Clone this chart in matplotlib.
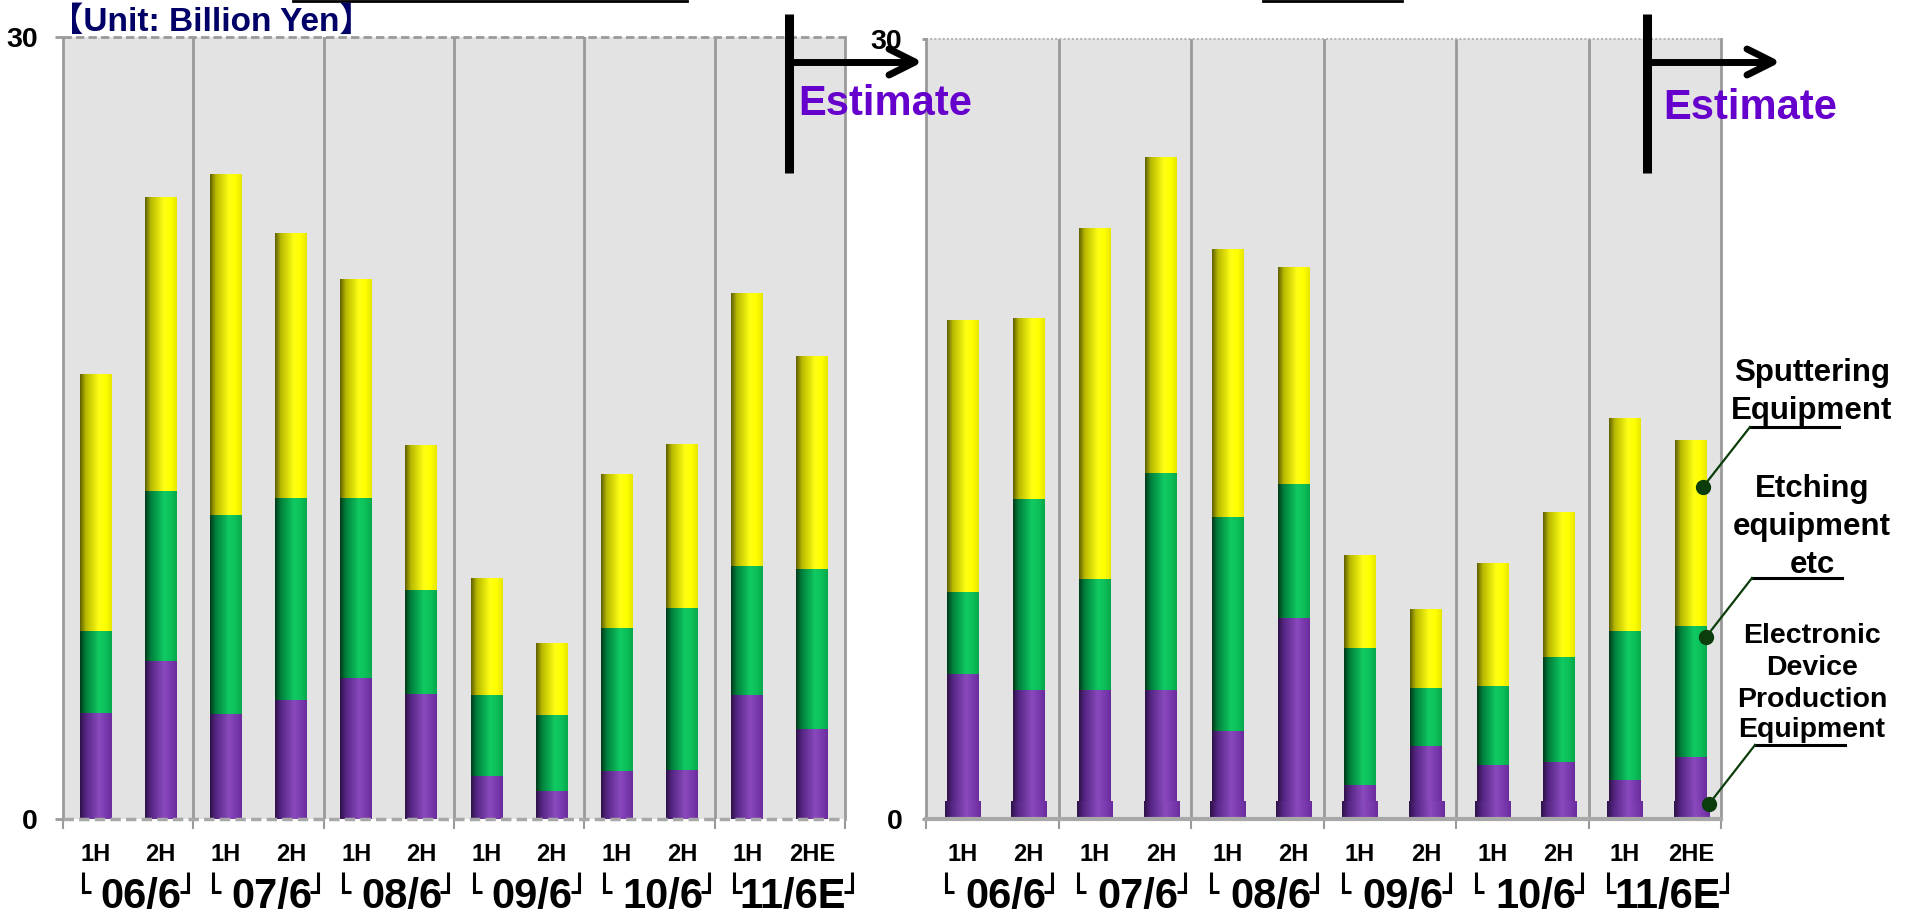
import numpy as np
import matplotlib
matplotlib.use("Agg")
import matplotlib.pyplot as plt
from matplotlib import font_manager
from matplotlib.colors import LinearSegmentedColormap
from matplotlib.lines import Line2D

# ---------------- data (billion yen) ----------------
periods = ["06/6", "07/6", "08/6", "09/6", "10/6", "11/6E"]
halves = ["1H", "2H", "1H", "2H", "1H", "2H", "1H", "2H", "1H", "2H", "1H", "2HE"]

# left panel, stacked from the bottom
left_device = [4.08, 6.05, 4.03, 4.55, 5.40, 4.78, 1.66, 1.06, 1.85, 1.89, 4.75, 3.44]
left_etching = [3.14, 6.54, 7.62, 7.76, 6.91, 3.99, 3.09, 2.92, 5.47, 6.21, 4.94, 6.16]
left_sputtering = [9.86, 11.29, 13.08, 10.17, 8.39, 5.59, 4.50, 2.77, 5.91, 6.29, 10.48, 8.16]

# right panel, stacked from the bottom
right_device = [5.58, 4.98, 4.98, 4.98, 3.40, 7.74, 1.31, 2.81, 2.06, 2.20, 1.50, 2.39]
right_etching = [3.15, 7.33, 4.24, 8.31, 8.22, 5.14, 5.25, 2.21, 3.05, 4.03, 5.72, 5.02]
right_sputtering = [10.45, 6.97, 13.50, 12.16, 10.31, 8.34, 3.61, 3.04, 4.73, 5.58, 8.20, 7.17]

y_ticks = [0, 30]

# ---------------- fonts ----------------
_names = {f.name for f in font_manager.fontManager.ttflist}
NARROW_OK = "Liberation Sans Narrow" in _names
NARROW = "Liberation Sans Narrow" if NARROW_OK else "Liberation Sans"
SANS = "Liberation Sans"
HALF_SIZE = 19 if NARROW_OK else 17
GROUP_SIZE = 35 if NARROW_OK else 30
YTICK_SIZE = 22 if NARROW_OK else 20.5

W, H = 1912, 914
fig = plt.figure(figsize=(W / 100, H / 100), dpi=100)
fig.patch.set_facecolor("white")


def fx(px):
    return px / W


def fy(py):
    return 1 - py / H


# cylinder-like shading, dark on the left, highlight right of centre
GRAD = np.linspace(0, 1, 128).reshape(1, -1)
cm_purple = LinearSegmentedColormap.from_list(
    "p", [(0, "#2e1248"), (0.18, "#552584"), (0.6, "#8a4abd"), (0.8, "#7b3bb0"), (1, "#6a2c9c")])
cm_green = LinearSegmentedColormap.from_list(
    "g", [(0, "#003a1a"), (0.18, "#00803c"), (0.6, "#10ca62"), (0.8, "#0cc05a"), (1, "#06a84c")])
cm_yellow = LinearSegmentedColormap.from_list(
    "y", [(0, "#5e5e00"), (0.18, "#b8b800"), (0.6, "#ffff14"), (0.8, "#ffff00"), (1, "#e6e600")])

SEP = "#9a9a9a"


def shade(ax, patches, cmap):
    for p in patches:
        x0, y0 = p.get_x(), p.get_y()
        w, h = p.get_width(), p.get_height()
        im = ax.imshow(GRAD, extent=(x0, x0 + w, y0, y0 + h), cmap=cmap,
                       aspect="auto", origin="lower", interpolation="bilinear",
                       zorder=p.get_zorder() + 0.1)
        im.set_clip_path(p)


def panel(rect, device, etching, sputtering, offset, width, top_style, zero_style,
          ytick_len, ytick_pad, base=False):
    ax = fig.add_axes(rect)
    ax.set_facecolor("#e3e3e3")
    xs = np.arange(len(halves)) + offset
    dev = np.array(device)
    etc = np.array(etching)
    spt = np.array(sputtering)

    if base:
        b = ax.bar(xs, 0.7, width=width + 0.05, color="#7a3aaa", zorder=3.5)
        shade(ax, b, cm_purple)
    b1 = ax.bar(xs, dev, width=width, color="#7a3aaa", zorder=3)
    b2 = ax.bar(xs, etc, bottom=dev, width=width, color="#0cc05a", zorder=3)
    b3 = ax.bar(xs, spt, bottom=dev + etc, width=width, color="#ffff00", zorder=3)
    shade(ax, b1, cm_purple)
    shade(ax, b2, cm_green)
    shade(ax, b3, cm_yellow)

    ax.set_xlim(0, 12)
    ax.set_ylim(0, 30)
    for s in ("top", "bottom"):
        ax.spines[s].set_visible(False)
    for s in ("left", "right"):
        ax.spines[s].set_color(SEP)
        ax.spines[s].set_linewidth(2)
    for xv in range(2, 12, 2):
        ax.axvline(xv, color=SEP, lw=2, zorder=1)
    ax.axhline(30, color=top_style[0], ls=top_style[1], lw=top_style[2], zorder=2, clip_on=False)
    ax.axhline(0, color=zero_style[0], ls=zero_style[1], lw=zero_style[2], zorder=4, clip_on=False)

    ax.set_xticks(range(0, 13, 2))
    ax.set_xticklabels([])
    ax.tick_params(axis="x", direction="out", length=7, width=1.5, color=SEP)
    ax.set_yticks(y_ticks)
    ax.set_yticklabels([str(v) for v in y_ticks])
    ax.tick_params(axis="y", direction="out", length=ytick_len, width=2, color=SEP, pad=ytick_pad)
    for lab in ax.get_yticklabels():
        lab.set_fontfamily(NARROW)
        lab.set_fontweight("bold")
        lab.set_fontsize(YTICK_SIZE)

    # half-year labels
    for x, h in zip(xs, halves):
        ax.annotate(h, xy=(x, 0), xycoords=("data", "axes fraction"),
                    xytext=(0, -30), textcoords="offset points",
                    ha="center", va="baseline", fontsize=HALF_SIZE, fontweight="bold",
                    family=NARROW)
    groups = []
    for i, p in enumerate(periods):
        t = ax.annotate(p, xy=(2 * i + 1.2, 0), xycoords=("data", "axes fraction"),
                        xytext=(0, -64), textcoords="offset points",
                        ha="center", va="baseline", fontsize=GROUP_SIZE, fontweight="bold",
                        family=NARROW)
        groups.append((i, t))
    return ax, groups


axL, gL = panel([fx(63), 1 - 819 / H, 782 / W, 782 / H],
                left_device, left_etching, left_sputtering, 0.5, 0.49,
                ("#9a9a9a", (0, (3, 1.5)), 2), ("#a8a8a8", (0, (3, 1.5)), 2.5),
                6, 12)
axR, gR = panel([fx(926), 1 - 819 / H, 795 / W, 780 / H],
                right_device, right_etching, right_sputtering, 0.55, 0.48,
                ("#b4b4b4", (0, (1, 1)), 1.5), ("#a8a8a8", "-", 3),
                3, 14, base=True)

# group brackets around the fiscal-year labels
fig.canvas.draw()
for ax, groups in ((axL, gL), (axR, gR)):
    for i, t in groups:
        bb = t.get_window_extent()
        start = ax.transData.transform((2 * i + 0.3, 0))[0]
        end = ax.transData.transform((2 * i + 1.9, 0))[0]
        xl = min(start, bb.x0 - 6)
        xr = max(end, bb.x1 + 6)
        ytop, ybot = 42, 22
        fig.add_artist(Line2D([fx(xl), fx(xl), fx(xl + 8)], [ytop / H, ybot / H, ybot / H],
                              color="black", lw=2.2, solid_capstyle="butt",
                              solid_joinstyle="miter"))
        fig.add_artist(Line2D([fx(xr - 8), fx(xr), fx(xr)], [ybot / H, ybot / H, ytop / H],
                              color="black", lw=2.2, solid_capstyle="butt",
                              solid_joinstyle="miter"))

# unit caption
fig.text(fx(50), fy(31), "【Unit: Billion Yen】", family=[SANS, "Noto Sans CJK JP"],
         fontweight="bold", fontsize=24, color="#000066", ha="left", va="baseline")

# title remnants at the very top edge
fig.add_artist(Line2D([fx(293), fx(687)], [fy(1), fy(1)], color="black", lw=2))
fig.add_artist(Line2D([fx(1263), fx(1402)], [fy(1), fy(1)], color="black", lw=2))


# estimate markers
def estimate(x0, xtext, ybase):
    fig.add_artist(Line2D([fx(x0), fx(x0)], [fy(14), fy(173)], color="black", lw=6.5,
                          solid_capstyle="butt", zorder=10))
    fig.add_artist(Line2D([fx(x0), fx(x0 + 124)], [fy(62), fy(62)], color="black", lw=5,
                          solid_capstyle="butt", zorder=10))
    fig.add_artist(Line2D([fx(x0 + 100), fx(x0 + 126), fx(x0 + 100)], [fy(49), fy(62), fy(75)],
                          color="black", lw=5, solid_capstyle="round",
                          solid_joinstyle="round", zorder=10))
    fig.text(fx(xtext), fy(ybase), "Estimate", fontsize=30, fontweight="bold",
             family=SANS, color="#6600cc", ha="left", va="baseline", zorder=11)


estimate(789, 798, 115)
estimate(1647, 1663, 119)

# series callouts on the right
LEAD = "#0b3d0b"
callouts = [
    (["Sputtering", "Equipment"], [381, 419], 22.5, (1750, 1839, 427), (1703, 487)),
    (["Etching", "equipment", "etc"], [497, 535, 573], 22.5, (1752, 1842, 578), (1706, 637)),
    (["Electronic", "Device", "Production", "Equipment"], [643, 675, 707, 737], 20.5,
     (1755, 1845, 745), (1709, 804)),
]
for lines, bases, size, (ux0, ux1, uy), (dx, dy) in callouts:
    for s, yb in zip(lines, bases):
        fig.text(fx(1812), fy(yb), s, fontsize=size, fontweight="bold", family=SANS,
                 ha="center", va="baseline")
    fig.add_artist(Line2D([fx(ux0), fx(ux1)], [fy(uy), fy(uy)], color="black", lw=2.2))
    fig.add_artist(Line2D([fx(dx), fx(ux0)], [fy(dy), fy(uy)], color=LEAD, lw=1.6))
    fig.add_artist(Line2D([fx(dx)], [fy(dy)], marker="o", markersize=10, color=LEAD, lw=0))

fig.savefig("out.png", dpi=100, facecolor="white")
